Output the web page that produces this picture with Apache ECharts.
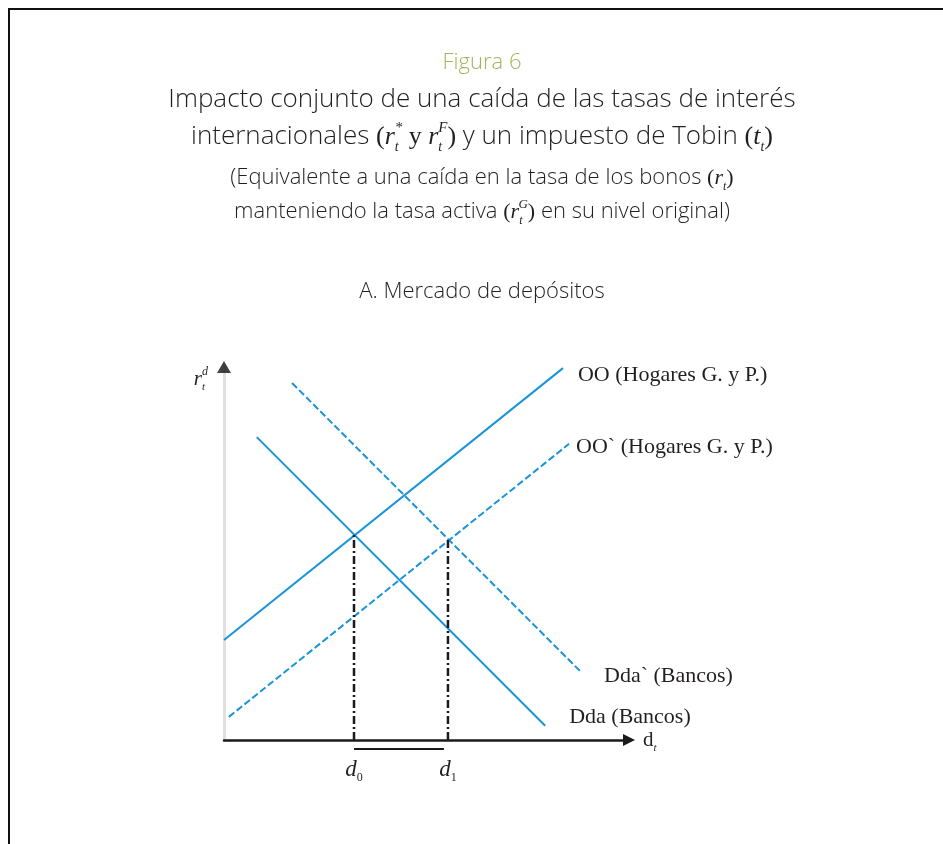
<!DOCTYPE html>
<html>
<head>
<meta charset="utf-8">
<script src="https://cdn.jsdelivr.net/npm/echarts@6/dist/echarts.min.js"></script>
<style>
  html, body { margin: 0; padding: 0; background: #ffffff; }
  #chart { width: 943px; height: 844px; }
</style>
</head>
<body>
<div id="chart"></div>
<script>
// Curve endpoints in chart units (x: deposits d, y: deposit rate r^d)
const ooCurve    = [[0, 26.8], [83.7, 99.7]];
const ooShifted  = [[1.2, 6.2], [85.2, 79.4]];
const ddaCurve   = [[8.1, 81.2], [79.3, 3.8]];
const ddaShifted = [[16.8, 95.7], [87.9, 18.5]];

// Equilibria: before (d0) and after (d1) the shift
const eqX = [32.1, 55.3];
const eqY = [55.0, 53.7];
const eqSubs = ['0', '1'];
const bracketY = -2.4;

const curveNames = ['OO (Hogares G. y P.)', 'OO` (Hogares G. y P.)', 'Dda (Bancos)', 'Dda` (Bancos)'];

const BLUE = '#1a94d9';
const INK = '#231f20';
const SANS = '"Open Sans"';
const SERIF = '"Liberation Serif", "Times New Roman", serif';

// rich-text styles for italic math symbols with sub/superscripts
const mathRich = function (size) {
  const small = Math.round(size * 0.55);
  return {
    s:   { fontFamily: SERIF, fontSize: size + 1, fill: INK, color: INK },
    i:   { fontFamily: SERIF, fontStyle: 'italic', fontSize: size + 1, fill: INK, color: INK },
    u:   { fontFamily: SERIF, fontSize: small, fill: INK, color: INK, padding: [Math.round(size * 0.75), 0, 0, 0] },
    sub: { fontFamily: SERIF, fontStyle: 'italic', fontSize: small, fill: INK, color: INK, padding: [Math.round(size * 0.8), 0, 0, 0] },
    sup: { fontFamily: SERIF, fontStyle: 'italic', fontSize: Math.round(size * 0.6), fill: INK, color: INK, padding: [0, 0, Math.round(size * 0.7), -Math.round(small * 0.3)] }
  };
};

const chart = echarts.init(document.getElementById('chart'), null, { renderer: 'canvas' });

function curveSeries(name, pts, dashed, offset) {
  return {
    type: 'line',
    name: name,
    data: pts,
    symbol: 'none',
    silent: true,
    clip: false,
    animation: false,
    lineStyle: { color: BLUE, width: 2, type: dashed ? [7, 3] : 'solid' },
    endLabel: {
      show: true,
      formatter: name,
      distance: 0,
      offset: offset,
      fontFamily: SERIF,
      fontSize: 22,
      color: INK
    }
  };
}

const series = [
  curveSeries(curveNames[0], ooCurve, false, [15, 7]),
  curveSeries(curveNames[1], ooShifted, true, [7, 3]),
  curveSeries(curveNames[2], ddaCurve, false, [24, -9]),
  curveSeries(curveNames[3], ddaShifted, true, [24, 5])
];

// Dash-dot drop lines from each equilibrium to the d axis
eqX.forEach(function (x, k) {
  series.push({
    type: 'line',
    data: [[x, 0], [x, eqY[k]]],
    symbol: 'none',
    silent: true,
    clip: false,
    animation: false,
    z: 3,
    lineStyle: { color: '#1a1a1a', width: 2.5, type: [8, 3, 2, 3] }
  });
});

// d0 / d1 labels under the axis
series.push({
  type: 'scatter',
  data: eqX.map(function (x) { return [x, 0]; }),
  symbolSize: 2,
  itemStyle: { color: 'rgba(255,255,255,0)' },
  silent: true,
  clip: false,
  animation: false,
  label: {
    show: true,
    position: 'bottom',
    distance: 14,
    color: INK,
    opacity: 1,
    formatter: function (p) { return '{i|d}{u|' + eqSubs[p.dataIndex] + '}'; },
    rich: mathRich(22)
  }
});

// Horizontal bracket under the axis spanning the change in deposits
series.push({
  type: 'line',
  data: [[eqX[0], bracketY], [eqX[1] - 1, bracketY]],
  symbol: 'none',
  silent: true,
  clip: false,
  animation: false,
  lineStyle: { color: '#1a1a1a', width: 2 }
});

// Arrowhead of the vertical axis
series.push({
  type: 'scatter',
  data: [[0, 100]],
  symbol: 'triangle',
  symbolSize: [14, 12],
  itemStyle: { color: '#111111' },
  silent: true,
  clip: false,
  animation: false,
  z: 5
});

const option = {
  backgroundColor: '#ffffff',
  animation: false,
  grid: { left: 224, top: 367, width: 405, height: 373, containLabel: false },
  xAxis: {
    type: 'value',
    min: 0,
    max: 100,
    axisLine: {
      show: true,
      onZero: false,
      symbol: ['none', 'triangle'],
      symbolSize: [12, 12],
      lineStyle: { color: '#1a1a1a', width: 2.5 }
    },
    axisTick: { show: false },
    axisLabel: { show: false },
    splitLine: { show: false },
    name: '{s|d}{sub|t}',
    nameLocation: 'end',
    nameGap: 14,
    nameTextStyle: { rich: mathRich(20), align: 'left', verticalAlign: 'middle' }
  },
  yAxis: {
    type: 'value',
    min: 0,
    max: 100,
    axisLine: {
      show: true,
      onZero: false,
      lineStyle: { color: '#e0e0e0', width: 3 }
    },
    axisTick: { show: false },
    axisLabel: { show: false },
    splitLine: { show: false },
    name: '{i|r}{sub|t}{sup|d}',
    nameLocation: 'end',
    nameGap: -12,
    nameTextStyle: { rich: mathRich(20), align: 'right', verticalAlign: 'middle', padding: [0, 16, 0, 0] }
  },
  graphic: [
    {
      type: 'rect',
      silent: true,
      shape: { x: 9, y: 9, width: 960, height: 860 },
      style: { fill: 'none', stroke: '#111111', lineWidth: 2 }
    },
    {
      type: 'text', x: 482, y: 63, silent: true,
      style: { text: 'Figura 6', fontFamily: SANS, fontWeight: 300, fontSize: 22, fill: '#a6b55b', align: 'center', verticalAlign: 'middle' }
    },
    {
      type: 'text', x: 482, y: 100, silent: true,
      style: { text: 'Impacto conjunto de una caída de las tasas de interés', fontFamily: SANS, fontWeight: 300, fontSize: 26, fill: INK, align: 'center', verticalAlign: 'middle' }
    },
    {
      type: 'text', x: 482, y: 137, silent: true,
      style: {
        text: 'internacionales {s|(}{i|r}{sub|t}{sup|*}{s| y }{i|r}{sub|t}{sup|F}{s|)} y un impuesto de Tobin {s|(}{i|t}{sub|t}{s|)}',
        fontFamily: SANS, fontWeight: 300, fontSize: 26, fill: INK, align: 'center', verticalAlign: 'middle',
        rich: mathRich(25)
      }
    },
    {
      type: 'text', x: 482, y: 178, silent: true,
      style: {
        text: '(Equivalente a una caída en la tasa de los bonos {s|(}{i|r}{sub|t}{s|)}',
        fontFamily: SANS, fontWeight: 300, fontSize: 22, fill: INK, align: 'center', verticalAlign: 'middle',
        rich: mathRich(21)
      }
    },
    {
      type: 'text', x: 482, y: 212, silent: true,
      style: {
        text: 'manteniendo la tasa activa {s|(}{i|r}{sub|t}{sup|G}{s|)} en su nivel original)',
        fontFamily: SANS, fontWeight: 300, fontSize: 22, fill: INK, align: 'center', verticalAlign: 'middle',
        rich: mathRich(21)
      }
    },
    {
      type: 'text', x: 482, y: 292, silent: true,
      style: { text: 'A. Mercado de depósitos', fontFamily: SANS, fontWeight: 300, fontSize: 22, fill: INK, align: 'center', verticalAlign: 'middle' }
    }
  ],
  series: series
};

chart.setOption(option);
</script>
</body>
</html>
